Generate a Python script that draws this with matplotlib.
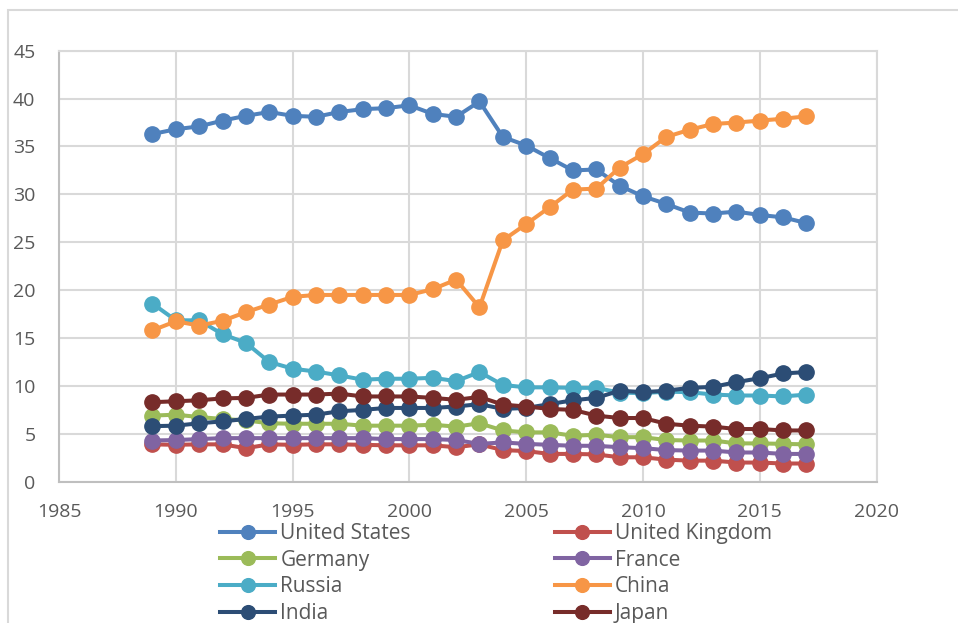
import numpy as np
import matplotlib
matplotlib.use("Agg")
import matplotlib.pyplot as plt
from matplotlib.patches import Rectangle

years = list(range(1989, 2018))

united_states = [36.3, 36.8, 37.1, 37.7, 38.2, 38.6, 38.2, 38.1, 38.6, 38.9,
                 39.0, 39.3, 38.4, 38.1, 39.7, 36.0, 35.1, 33.8, 32.5, 32.6,
                 30.9, 29.8, 29.0, 28.1, 28.0, 28.2, 27.85, 27.6, 27.0]
united_kingdom = [3.9, 3.85, 3.9, 3.9, 3.5, 3.9, 3.85, 3.9, 3.9, 3.85,
                  3.8, 3.8, 3.8, 3.6, 3.9, 3.3, 3.2, 2.9, 2.9, 2.85,
                  2.55, 2.55, 2.3, 2.2, 2.2, 2.0, 2.0, 1.9, 1.9]
germany = [6.9, 7.0, 6.75, 6.55, 6.4, 6.1, 6.05, 6.05, 6.05, 5.85,
           5.85, 5.85, 5.95, 5.75, 6.1, 5.35, 5.15, 5.15, 4.8, 4.9,
           4.65, 4.65, 4.35, 4.3, 4.3, 4.0, 4.0, 3.95, 3.9]
france = [4.3, 4.35, 4.45, 4.55, 4.55, 4.55, 4.55, 4.55, 4.55, 4.55,
          4.45, 4.45, 4.45, 4.35, 3.95, 4.1, 3.95, 3.85, 3.75, 3.75,
          3.6, 3.5, 3.3, 3.25, 3.25, 3.05, 3.05, 2.9, 2.9]
russia = [18.6, 16.85, 16.85, 15.4, 14.5, 12.5, 11.8, 11.5, 11.1, 10.65,
          10.75, 10.75, 10.85, 10.5, 11.45, 10.1, 9.85, 9.85, 9.8, 9.8,
          9.3, 9.25, 9.4, 9.35, 9.1, 9.0, 9.0, 8.9, 9.1]
china = [15.8, 16.75, 16.3, 16.8, 17.7, 18.5, 19.3, 19.5, 19.5, 19.5,
         19.5, 19.5, 20.1, 21.1, 18.2, 25.2, 26.9, 28.65, 30.5, 30.6,
         32.8, 34.2, 36.0, 36.75, 37.35, 37.5, 37.7, 37.9, 38.15]
india = [5.8, 5.85, 6.1, 6.3, 6.55, 6.8, 6.9, 7.0, 7.35, 7.5,
         7.7, 7.7, 7.7, 7.85, 8.1, 7.6, 7.7, 8.1, 8.5, 8.75,
         9.5, 9.35, 9.5, 9.8, 9.9, 10.4, 10.8, 11.3, 11.45]
japan = [8.3, 8.4, 8.5, 8.7, 8.75, 9.1, 9.1, 9.1, 9.2, 8.9,
         8.9, 8.9, 8.75, 8.55, 8.85, 8.05, 7.85, 7.6, 7.5, 6.9,
         6.65, 6.65, 6.05, 5.85, 5.75, 5.5, 5.5, 5.35, 5.35]

names = ["United States", "United Kingdom", "Germany", "France",
         "Russia", "China", "India", "Japan"]
colors = ["#4F81BD", "#C0504D", "#9BBB59", "#8064A2",
          "#4BACC6", "#F79646", "#2C4D75", "#772C2A"]
series = [united_states, united_kingdom, germany, france,
          russia, china, india, japan]

plt.rcParams['font.family'] = ['Open Sans', 'DejaVu Sans']

fig = plt.figure(figsize=(9.58, 6.23), dpi=100)
ax = fig.add_axes([0.0616, 0.2268, 0.8534, 0.6918])

# outer chart border (runs off right and bottom)
fig.patches.append(Rectangle((7.5 / 958, -0.1), 1.2, (623 - 9.7) / 623 + 0.1,
                             transform=fig.transFigure, fill=False,
                             edgecolor="#d9d9d9", linewidth=1.5))

handles = {}
for name, col, vals in zip(names, colors, series):
    ln, = ax.plot(years, vals, color=col, linewidth=2.9, marker="o",
                  markersize=11, label=name)
    handles[name] = ln

ax.set_xlim(1985, 2020)
ax.set_ylim(0, 45)
ax.set_xticks(range(1985, 2021, 5))
ax.set_yticks(range(0, 46, 5))
ax.grid(True, color="#d9d9d9", linewidth=1.5)
ax.set_axisbelow(True)
for s in ["left", "bottom"]:
    ax.spines[s].set_color("#bfbfbf")
    ax.spines[s].set_linewidth(1.5)
for s in ["top", "right"]:
    ax.spines[s].set_color("#d9d9d9")
    ax.spines[s].set_linewidth(1.5)
ax.tick_params(length=0, labelsize=14, labelcolor="#595959")
ax.tick_params(axis="y", pad=17)
ax.tick_params(axis="x", pad=15)

# excel fills the legend row by row, matplotlib column by column
order = ["United States", "Germany", "Russia", "India",
         "United Kingdom", "France", "China", "Japan"]
leg = fig.legend([handles[n] for n in order], order, ncol=2,
                 loc="upper left", bbox_to_anchor=(220 / 958, (623 - 523) / 623),
                 frameon=False, fontsize=15, handlelength=2.65,
                 handletextpad=0.25, columnspacing=6.9, labelspacing=0.27,
                 borderaxespad=0, borderpad=0, markerscale=0.9)
for t in leg.get_texts():
    t.set_color("#595959")

fig.savefig("out.png", dpi=100)
